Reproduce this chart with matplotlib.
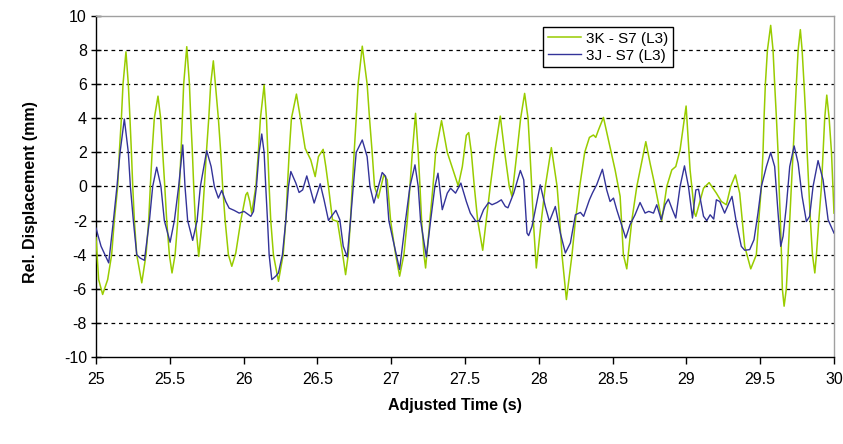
import matplotlib
matplotlib.use("Agg")
import matplotlib.pyplot as plt

plt.rcParams['font.family'] = ['Liberation Sans', 'DejaVu Sans']
plt.rcParams['axes.unicode_minus'] = False

# 3K - S7 (L3): time (s), relative displacement (mm)
t_3k = [25.000, 25.018, 25.045, 25.079, 25.106, 25.124, 25.147, 25.158, 25.172, 25.183, 25.203,
        25.219, 25.230, 25.240, 25.249, 25.260, 25.276, 25.310,
        25.339, 25.357, 25.368, 25.380, 25.395, 25.420,
        25.438, 25.452, 25.466, 25.479, 25.497, 25.515,
        25.536, 25.554, 25.565, 25.576, 25.585, 25.594, 25.615,
        25.633, 25.642, 25.653, 25.662, 25.673, 25.696,
        25.719, 25.734, 25.748, 25.764, 25.777, 25.795,
        25.809, 25.829, 25.845, 25.858, 25.875, 25.897, 25.920,
        25.947, 25.981, 26.015, 26.026, 26.042, 26.055,
        26.083, 26.100, 26.114, 26.139,
        26.155, 26.164, 26.173, 26.184, 26.202, 26.236,
        26.268, 26.286, 26.297, 26.309, 26.324, 26.358,
        26.385, 26.417, 26.455, 26.485, 26.507, 26.539,
        26.557, 26.575, 26.602, 26.636, 26.670, 26.691,
        26.709, 26.724, 26.736, 26.749, 26.763, 26.776, 26.804,
        26.837, 26.853, 26.871, 26.887, 26.912, 26.950, 26.973,
        26.996, 27.030, 27.057,
        27.086, 27.109, 27.127, 27.143, 27.165,
        27.183, 27.195, 27.206, 27.222, 27.233,
        27.262, 27.283, 27.301, 27.341,
        27.380, 27.454, 27.482, 27.509, 27.525,
        27.543, 27.563, 27.586, 27.620,
        27.644, 27.671, 27.701, 27.739,
        27.769, 27.800, 27.818,
        27.852, 27.877, 27.904,
        27.927, 27.940, 27.952, 27.963, 27.983,
        28.017, 28.044, 28.085,
        28.124, 28.142, 28.157, 28.187,
        28.225, 28.248, 28.277, 28.311, 28.343, 28.370, 28.386, 28.404, 28.438,
        28.472, 28.517, 28.551, 28.573, 28.596,
        28.630, 28.664, 28.725,
        28.754, 28.788, 28.833,
        28.867, 28.901, 28.928, 28.957, 28.998,
        29.025, 29.055, 29.064, 29.116, 29.154,
        29.203, 29.237, 29.271, 29.300, 29.332, 29.361, 29.395, 29.436,
        29.474, 29.490, 29.508, 29.519, 29.526, 29.535, 29.549, 29.571,
        29.587, 29.598, 29.610, 29.621, 29.628, 29.637, 29.644, 29.650, 29.662,
        29.677, 29.689, 29.700, 29.711, 29.723, 29.734, 29.745, 29.757, 29.772,
        29.784, 29.797, 29.809, 29.818, 29.829, 29.840, 29.854, 29.870,
        29.881, 29.897, 29.915, 29.926, 29.937, 29.951,
        29.967, 29.983, 30.000]
d_3k = [-3.0, -5.46, -6.33, -5.46, -4.0, -2.0, 0.0, 2.0, 4.0, 6.0, 7.9,
        6.0, 4.0, 2.0, 0.0, -2.0, -4.0, -5.65,
        -4.0, -2.0, 0.0, 2.0, 4.0, 5.3,
        4.0, 2.0, 0.0, -2.0, -4.0, -5.07,
        -4.0, -2.0, 0.0, 2.0, 4.0, 6.0, 8.2,
        6.0, 4.0, 2.0, 0.0, -2.0, -4.1,
        -2.0, 0.0, 2.0, 4.0, 6.0, 7.37,
        6.0, 4.0, 2.0, 0.0, -2.0, -4.0, -4.68,
        -3.9, -2.0, -0.49, -0.35, -0.88, -1.56,
        0.0, 2.0, 4.0, 5.95,
        4.0, 2.0, 0.0, -2.0, -4.0, -5.56,
        -4.0, -2.0, 0.0, 2.0, 4.0, 5.42,
        4.0, 2.24, 1.56, 0.58, 1.75, 2.18,
        1.17, 0.0, -1.95, -2.05, -3.9, -5.17,
        -4.0, -2.0, 0.0, 2.0, 4.0, 6.0, 8.23,
        6.0, 4.0, 2.0, 0.0, -0.68, 0.68, 0.39,
        -2.0, -4.0, -5.26,
        -4.0, -2.0, 0.0, 2.0, 4.29,
        2.0, 0.0, -2.0, -4.0, -4.78,
        -2.0, 0.0, 2.0, 3.86,
        2.0, 0.04, 1.17, 3.0, 3.16,
        2.0, 0.0, -2.0, -3.74,
        -2.0, 0.0, 2.0, 4.13,
        2.0, 0.0, -0.58,
        2.0, 4.0, 5.46,
        4.0, 2.0, 0.0, -2.0, -4.78,
        -2.0, 0.0, 2.28,
        0.0, -2.0, -4.0, -6.63,
        -4.0, -2.0, 0.0, 2.0, 2.88, 3.02, 2.88, 3.31, 4.05,
        2.73, 0.97, -0.58, -4.0, -4.83,
        -2.0, 0.0, 2.63,
        1.36, 0.0, -1.99,
        0.0, 0.97, 1.17, 2.14, 4.72,
        0.97, -1.56, -1.75, -0.1, 0.23,
        -0.39, -0.88, -1.07, 0.0, 0.68, -0.39, -3.51, -4.83,
        -4.0, -2.0, 0.0, 2.0, 4.0, 6.0, 8.0, 9.45,
        8.0, 6.0, 4.0, 2.0, 0.0, -2.0, -4.0, -6.0, -7.02,
        -6.0, -4.0, -2.0, 0.0, 2.0, 4.0, 6.0, 8.0, 9.2,
        8.0, 6.0, 4.0, 2.0, 0.0, -2.0, -4.0, -5.07,
        -4.0, -2.0, 0.0, 2.0, 4.0, 5.36,
        4.0, 2.0, -1.56]

# 3J - S7 (L3): time (s), relative displacement (mm)
t_3j = [25.000, 25.034, 25.086, 25.118, 25.142, 25.163, 25.192,
        25.219, 25.233, 25.253, 25.276, 25.300, 25.328,
        25.362, 25.384, 25.411, 25.440, 25.463, 25.502,
        25.531, 25.560, 25.588, 25.603, 25.621, 25.655,
        25.685, 25.707, 25.750, 25.780, 25.802, 25.829, 25.852,
        25.879, 25.902, 25.936, 25.970, 26.003, 26.049, 26.067,
        26.087, 26.105, 26.123, 26.139, 26.150, 26.162, 26.173, 26.191, 26.218, 26.236,
        26.263, 26.286, 26.304, 26.320, 26.354, 26.376, 26.400, 26.428,
        26.478, 26.519, 26.545, 26.575, 26.600, 26.625, 26.652, 26.675, 26.702,
        26.724, 26.743, 26.763, 26.804, 26.837, 26.856, 26.883, 26.939, 26.962,
        26.984, 27.007, 27.057, 27.097, 27.127, 27.161,
        27.183, 27.199, 27.238, 27.267, 27.296, 27.317,
        27.346, 27.380, 27.402, 27.436, 27.472, 27.509, 27.536, 27.574, 27.597,
        27.626, 27.660, 27.683, 27.717, 27.746, 27.773, 27.791, 27.830, 27.875, 27.898,
        27.920, 27.931, 27.954, 28.010, 28.044, 28.072, 28.112, 28.146, 28.180,
        28.214, 28.248, 28.282, 28.304, 28.343, 28.363, 28.392, 28.431,
        28.460, 28.483, 28.506, 28.528, 28.557, 28.589, 28.618, 28.652, 28.686,
        28.720, 28.745, 28.777, 28.799, 28.829, 28.856, 28.878, 28.905, 28.928,
        28.957, 28.987, 29.014, 29.041, 29.064, 29.082, 29.116, 29.138, 29.161,
        29.185, 29.203, 29.226, 29.259, 29.293, 29.309, 29.339, 29.372, 29.395,
        29.429, 29.458, 29.485, 29.508, 29.542, 29.571, 29.598, 29.621, 29.639,
        29.655, 29.677, 29.700, 29.730, 29.757, 29.784, 29.813, 29.835, 29.858,
        29.892, 29.926, 29.960, 30.000]
d_3j = [-2.44, -3.5, -4.48, -2.0, 0.0, 2.0, 3.96,
        2.0, 0.0, -2.0, -4.0, -4.2, -4.33,
        -2.0, 0.0, 1.13, 0.0, -2.0, -3.27,
        -2.0, 0.0, 2.44, 0.0, -2.0, -3.16,
        -2.0, 0.0, 2.1, 1.17, 0.0, -0.68, -0.23,
        -0.88, -1.27, -1.4, -1.56, -1.46, -1.75, -1.46,
        0.0, 2.0, 3.08, 2.0, 0.0, -2.0, -4.0, -5.46, -5.26, -5.07,
        -4.0, -2.0, 0.0, 0.88, 0.2, -0.35, -0.2, 0.62,
        -0.97, 0.16, -0.78, -1.99, -1.7, -1.4, -1.95, -3.5, -4.13,
        -2.0, 0.0, 2.0, 2.73, 1.75, 0.0, -0.97, 0.82, 0.6,
        -2.0, -2.92, -4.87, -2.0, 0.0, 1.27,
        0.0, -2.0, -4.13, -2.0, 0.0, 0.78,
        -1.36, -0.39, -0.1, -0.39, 0.2, -0.88, -1.56, -2.05, -2.0,
        -1.36, -0.94, -1.07, -0.94, -0.78, -1.17, -1.25, -0.39, 0.94, 0.39,
        -2.73, -2.88, -2.34, 0.1, -1.17, -2.05, -1.17, -2.73, -3.9,
        -3.31, -1.66, -1.52, -1.75, -0.78, -0.39, 0.1, 1.01,
        -0.2, -0.88, -0.68, -1.36, -2.14, -3.02, -2.24, -1.66, -0.94,
        -1.56, -1.46, -1.56, -1.07, -1.95, -1.07, -0.74, -1.36, -1.85,
        0.0, 1.21, 0.0, -1.85, -0.2, -0.16, -1.75, -2.0, -1.66,
        -1.91, -0.78, -0.88, -1.56, -0.88, -0.58, -2.14, -3.51, -3.74,
        -3.7, -3.12, -1.56, 0.0, 1.17, 1.99, 1.17, -1.56, -3.51,
        -2.92, -1.17, 1.17, 2.38, 1.36, -0.58, -2.05, -1.75, 0.0,
        1.52, 0.39, -1.95, -2.73]

x_ticks = [25, 25.5, 26, 26.5, 27, 27.5, 28, 28.5, 29, 29.5, 30]
x_tick_labels = ['25', '25.5', '26', '26.5', '27', '27.5', '28', '28.5', '29', '29.5', '30']
y_ticks = [-10, -8, -6, -4, -2, 0, 2, 4, 6, 8, 10]

W, H = 843, 444
fig = plt.figure(figsize=(W / 100, H / 100), dpi=100)
ax = fig.add_axes([96 / W, (H - 357) / H, (834 - 96) / W, (357 - 16) / H])

green = '#99CC00'
navy = '#333399'

ax.plot(t_3k, d_3k, color=green, lw=1.1, label='3K - S7 (L3)', zorder=3)
ax.plot(t_3j, d_3j, color=navy, lw=1.0, label='3J - S7 (L3)', zorder=4)

ax.set_xlim(25, 30)
ax.set_ylim(-10, 10)
ax.set_xticks(x_ticks)
ax.set_xticklabels(x_tick_labels)
ax.set_yticks(y_ticks)

# dashed horizontal gridlines at the inner major ticks
for yv in y_ticks[1:-1]:
    ax.axhline(yv, color='black', lw=0.9, ls=(0, (3, 3)), zorder=1)

for side in ('top', 'right'):
    ax.spines[side].set_color('#a0a0a0')
    ax.spines[side].set_linewidth(1.0)
for side in ('left', 'bottom'):
    ax.spines[side].set_color('black')
    ax.spines[side].set_linewidth(1.0)

ax.tick_params(axis='y', direction='inout', length=7, width=1, labelsize=11.5, pad=3)
ax.tick_params(axis='x', direction='out', length=5, width=1, labelsize=11.5, pad=6)

fig.text(30 / W, 1 - 192 / H, 'Rel. Displacement (mm)', rotation=90,
         ha='center', va='center', fontsize=11.5, fontweight='bold')
fig.text(455 / W, 1 - 405 / H, 'Adjusted Time (s)', ha='center', va='center',
         fontsize=11.5, fontweight='bold')

leg = ax.legend(loc='upper left', bbox_to_anchor=((543 - 96) / (834 - 96), 1 - (27 - 16) / (357 - 16)),
                fontsize=11, frameon=True, fancybox=False, borderpad=0.3,
                handlelength=2.2, handletextpad=0.3, labelspacing=0.2, borderaxespad=0)
leg.get_frame().set_edgecolor('black')
leg.get_frame().set_linewidth(1.0)
leg.get_frame().set_alpha(1)

fig.savefig('out.png', dpi=100)
